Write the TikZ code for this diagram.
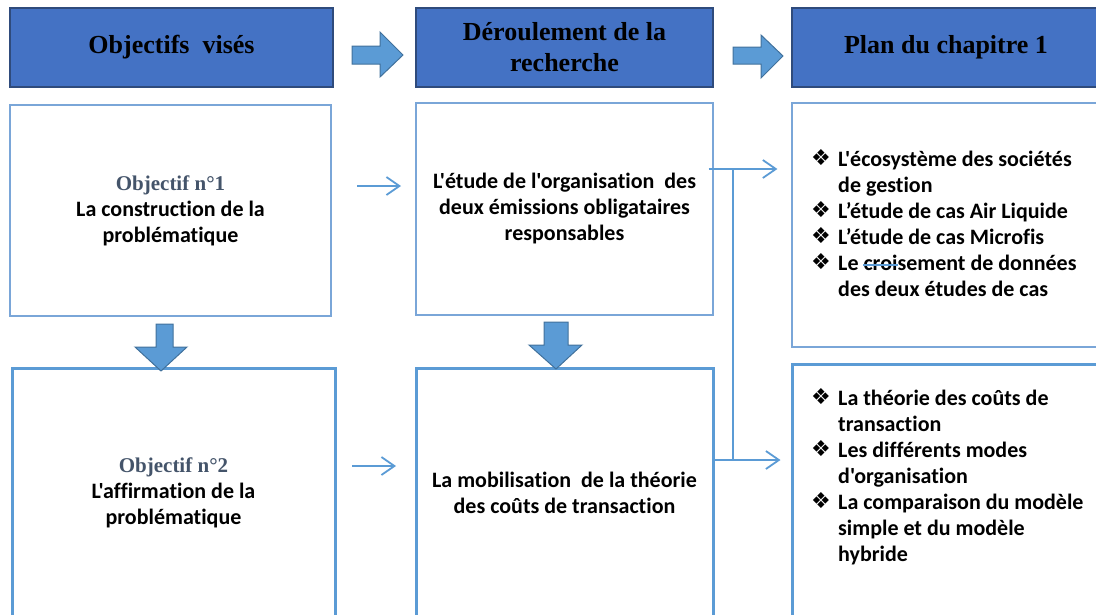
\documentclass[tikz,border=0pt]{standalone}
\usepackage{fontspec}
\setmainfont{Carlito}[Ligatures={TeXOff,CommonOff}]
\newfontfamily\tnr{Liberation Serif}
\newfontfamily\djv{DejaVu Sans}
\usetikzlibrary{arrows.meta}
\definecolor{hdrfill}{HTML}{4472C4}
\definecolor{hdrline}{HTML}{2F4B7C}
\definecolor{lblue}{HTML}{5B9BD5}
\definecolor{tblue}{HTML}{7AA6D8}
\definecolor{aline}{HTML}{41719C}
\definecolor{objcol}{HTML}{44546A}
\newcommand{\bul}{\makebox[27pt][l]{\raisebox{0.5pt}{\djv\fontsize{22}{22}\selectfont ❖}}}
\newcommand{\ind}{\hspace*{27pt}}
\newcommand{\objt}[1]{{\color{objcol}\tnr\fontsize{21}{26}\selectfont #1}}
\begin{document}
\begin{tikzpicture}[x=1pt,y=-1pt,
  hdr/.style={draw=hdrline, line width=1.8pt, fill=hdrfill, text=black,
    font=\tnr\bfseries\fontsize{26}{31}\selectfont, align=center, inner sep=0pt},
  box/.style={draw=tblue, line width=1.2pt, inner sep=0pt, align=center,
    font=\bfseries\fontsize{22}{26}\selectfont},
  bigbox/.style={box, draw=lblue, line width=3pt},
  listtxt/.style={inner sep=0pt, font=\bfseries\fontsize{22}{26}\selectfont},
  conn/.style={draw=lblue, line width=1.8pt},
  tip/.style={-{Straight Barb[length=13pt,width=18pt]}},
  barrow/.style={fill=lblue, draw=aline, line width=1pt}
]
\useasboundingbox (0,0) rectangle (1096,614);
\clip (0,0) rectangle (1096,614);

% headers
\node[hdr, minimum width=323pt, minimum height=79pt] (h1) at (171.5,47.5) {Objectifs\ \ visés};
\node[hdr, minimum width=297pt, minimum height=79pt] (h2) at (564.5,47.5) {\raisebox{-1pt}{Déroulement de la}\\\raisebox{-1pt}{recherche}};
\node[hdr, minimum width=308pt, minimum height=79pt] (h3) at (946,47.5) {Plan du chapitre 1};

% block arrows between headers
\draw[barrow] (352,46) -- (380,46) -- (380,32) -- (403,55) -- (380,77) -- (380,64) -- (352,64) -- cycle;
\draw[barrow] (733,47) -- (761,47) -- (761,35) -- (783,56) -- (761,78) -- (761,64) -- (733,64) -- cycle;

% row 1
\node[box, minimum width=321pt, minimum height=211pt] (obj1) at (170.5,210.5)
  {\objt{Objectif n°1}\\La construction de la\\problématique};
\node[box, minimum width=297pt, minimum height=212pt] (mid1) at (564.5,209)
  {\raisebox{-1.5pt}{L'étude de l'organisation\ \ des}\\\raisebox{-1.5pt}{deux émissions obligataires}\\\raisebox{-1.5pt}{responsables}};
\node[box, minimum width=308pt, minimum height=244pt] (plan1) at (946,225) {};
\node[listtxt, anchor=base west] (list1) at (811,166)
  {\begin{tabular}[t]{@{}l@{}}
   \bul L'écosystème des sociétés\\
   \ind de gestion\\
   \bul L’étude de cas Air Liquide\\
   \bul L’étude de cas Microfis\\
   \bul Le croisement de données\\
   \ind des deux études de cas
  \end{tabular}};

% row 2
\node[bigbox, minimum width=323pt, minimum height=250pt] (obj2) at (173.5,493)
  {\objt{Objectif n°2}\\L'affirmation de la\\problématique};
\node[bigbox, minimum width=297pt, minimum height=250pt] (mid2) at (564.5,493)
  {La mobilisation\ \ de la théorie\\des coûts de transaction};
\node[bigbox, minimum width=308pt, minimum height=254pt] (plan2) at (946,491) {};
\node[listtxt, anchor=base west] (list2) at (811,405)
  {\begin{tabular}[t]{@{}l@{}}
   \bul La théorie des coûts de\\
   \ind transaction\\
   \bul Les différents modes\\
   \ind d'organisation\\
   \bul La comparaison du modèle\\
   \ind simple et du modèle\\
   \ind hybride
  \end{tabular}};

% down block arrows
\draw[barrow] (156,324) -- (173,324) -- (173,347) -- (187,347) -- (161,371) -- (135,347) -- (156,347) -- cycle;
\draw[barrow] (544,322) -- (568,322) -- (568,345) -- (582,345) -- (556,369) -- (529,345) -- (544,345) -- cycle;

% thin arrows between columns
\coordinate (a1s) at (357,186);
\coordinate (a1e) at (401,186);
\draw[conn, tip] (a1s) -- (a1e);
\coordinate (a2s) at (352,466);
\coordinate (a2e) at (396,466);
\draw[conn, tip] (a2s) -- (a2e);

% connector to plan boxes
\coordinate (j1) at (733,169);
\coordinate (j2) at (733,460);
\draw[conn, tip] ([xshift=-5pt]mid1.east |- j1) -- ([xshift=-14pt]plan1.west |- j1);
\draw[conn] (j1) -- (j2);
\draw[conn, tip] (mid2.east |- j2) -- ([xshift=-10pt]plan2.west |- j2);

% stray line over "croisement"
\draw[conn] (863,265) -- (898,265);
\end{tikzpicture}
\end{document}
